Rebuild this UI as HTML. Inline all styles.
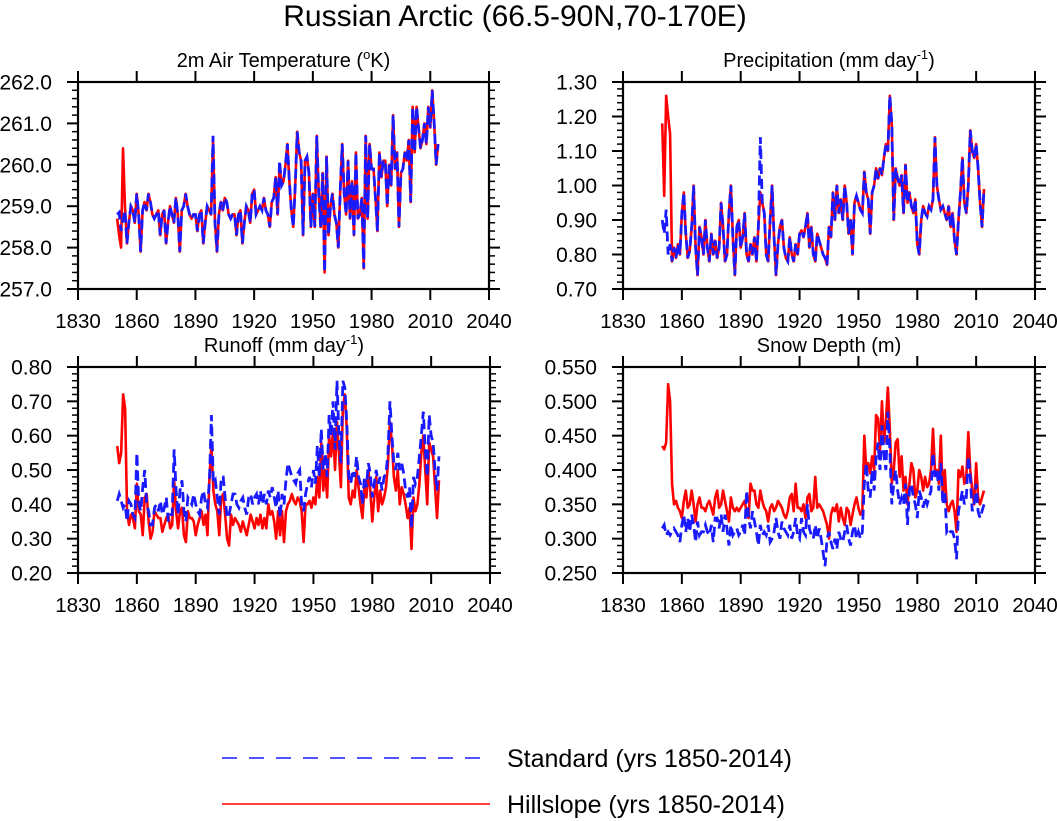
<!DOCTYPE html>
<html><head><meta charset="utf-8"><style>
html,body{margin:0;padding:0;background:#fff;}
svg{display:block;font-family:"Liberation Sans",Arial,sans-serif;}
</style></head><body>
<svg id="chart" width="1057" height="821" viewBox="0 0 1057 821">
<text x="515" y="26" text-anchor="middle" font-size="30">Russian Arctic (66.5-90N,70-170E)</text>
<g>
<line x1="222" y1="758" x2="490" y2="758" stroke="#1a1aff" stroke-width="1.4" stroke-dasharray="15,12"/>
<text x="507" y="767" font-size="25">Standard (yrs 1850-2014)</text>
<line x1="222" y1="804" x2="490" y2="804" stroke="#ff0000" stroke-width="1.4"/>
<text x="507" y="813" font-size="25">Hillslope (yrs 1850-2014)</text>
</g>
</svg>
<script>
const startYear = 1850;
const xTicks = [1830,1860,1890,1920,1950,1980,2010,2040];
const tempStd = [258.8,258.85,258.4,258.7,258.9,258.1,258.6,259.0,258.9,258.6,
259.3,258.8,257.9,258.9,259.1,258.9,259.3,259.1,258.8,258.7,
258.8,258.9,258.3,258.8,258.9,258.1,258.6,259.0,258.8,258.6,
259.2,258.8,257.9,258.9,259.0,259.3,259.0,258.8,258.7,258.8,
258.8,258.4,258.8,258.9,258.1,258.6,259.0,258.9,258.8,260.7,
258.6,257.9,258.8,259.1,258.9,259.2,259.1,258.8,258.7,258.8,
258.8,258.3,258.8,258.9,258.1,258.6,259.0,258.9,258.6,259.3,
259.4,258.8,258.9,259.0,258.9,259.2,258.9,258.8,258.5,259.1,
259.2,259.7,258.8,260.1,259.5,259.6,260.0,260.5,259.6,258.9,
258.5,259.5,260.8,260.3,260.1,258.3,260.1,260.2,259.8,258.5,
259.3,258.5,260.7,259.3,258.5,259.8,257.4,260.2,258.3,259.0,
259.3,258.8,258.6,258.0,259.4,260.5,259.3,258.8,260.1,258.7,
259.6,258.3,260.3,258.7,258.8,259.2,257.5,260.7,258.7,260.5,
259.9,259.9,259.2,258.4,260.3,259.7,260.1,260.1,259.0,260.0,
259.5,261.2,259.9,260.3,258.5,259.8,259.9,260.3,260.1,260.6,
259.1,261.4,260.3,261.4,260.9,260.4,260.6,261.0,260.5,261.4,
260.9,261.8,261.0,260.0,260.5];
const tempHill = [258.7,258.3,258.0,260.4,259.0,258.1,258.6,259.0,258.9,258.6,
259.3,258.8,257.9,258.9,259.1,258.9,259.3,259.1,258.8,258.7,
258.8,258.9,258.3,258.8,258.9,258.1,258.6,259.0,258.8,258.6,
259.2,258.8,257.9,258.9,259.0,259.3,259.0,258.8,258.7,258.8,
258.8,258.4,258.8,258.9,258.1,258.6,259.0,258.9,258.8,260.6,
258.6,257.9,258.8,259.1,258.9,259.2,259.1,258.8,258.7,258.8,
258.8,258.3,258.8,258.9,258.1,258.6,259.0,258.9,258.6,259.3,
259.4,258.8,258.9,259.0,258.9,259.2,258.9,258.8,258.5,259.1,
259.2,259.7,258.8,260.0,259.5,259.6,260.0,260.5,259.6,258.9,
258.5,259.5,260.8,260.3,260.1,258.3,260.1,260.2,259.8,258.5,
259.3,258.5,260.7,259.3,258.5,259.8,257.4,260.2,258.3,259.0,
259.3,258.8,258.6,258.0,259.4,260.5,259.3,258.8,260.1,258.7,
259.6,258.3,260.3,258.7,258.8,259.2,257.5,260.7,258.7,260.5,
259.9,259.9,259.2,258.4,260.3,259.7,260.1,260.1,259.0,260.0,
259.5,261.2,259.9,260.3,258.5,259.8,259.9,260.3,260.1,260.6,
259.1,261.4,260.3,261.4,260.9,260.4,260.6,261.0,260.5,261.4,
260.9,261.8,261.0,260.0,260.5];
const precStd = [0.90,0.86,0.93,0.80,0.83,0.78,0.82,0.79,0.83,0.80,
0.92,0.98,0.86,0.79,0.81,0.88,1.00,0.82,0.74,0.88,
0.85,0.80,0.90,0.82,0.78,0.86,0.80,0.84,0.79,0.82,
0.95,0.88,0.78,0.80,0.92,1.00,0.85,0.74,0.88,0.90,
0.82,0.85,0.92,0.80,0.78,0.83,0.80,0.85,0.78,0.88,
1.14,0.95,0.92,0.80,0.78,0.90,1.00,0.85,0.74,0.83,
0.88,0.90,0.82,0.79,0.78,0.85,0.80,0.78,0.83,0.80,
0.86,0.87,0.85,0.88,0.92,0.82,0.88,0.80,0.78,0.86,
0.84,0.82,0.80,0.79,0.77,0.88,0.85,0.98,0.90,1.00,
0.92,0.96,0.90,1.00,0.95,0.86,0.90,0.80,0.95,0.97,
0.95,0.93,0.92,1.04,0.98,0.96,0.86,0.98,1.00,1.05,
1.02,1.05,1.03,1.08,1.12,1.10,1.26,1.18,0.90,1.05,
1.02,1.00,1.03,0.92,1.06,0.95,0.98,0.94,0.92,0.96,
0.83,0.80,0.90,0.94,0.92,0.91,0.94,0.93,0.96,1.14,
1.00,0.96,0.93,0.94,0.92,0.90,0.94,0.88,0.92,0.84,
0.80,0.90,0.98,1.08,0.95,0.92,1.00,1.16,1.10,1.08,
1.12,1.05,0.95,0.88,0.99];
const precHill = [1.18,0.97,1.26,1.20,1.15,0.78,0.82,0.79,0.83,0.80,
0.92,0.98,0.86,0.79,0.81,0.88,1.00,0.82,0.74,0.88,
0.85,0.80,0.90,0.82,0.78,0.86,0.80,0.84,0.79,0.82,
0.95,0.88,0.78,0.80,0.92,1.00,0.85,0.74,0.88,0.90,
0.82,0.85,0.92,0.80,0.78,0.83,0.80,0.85,0.78,0.88,
0.98,0.95,0.92,0.80,0.78,0.90,1.00,0.85,0.74,0.83,
0.88,0.90,0.82,0.79,0.78,0.85,0.80,0.78,0.83,0.80,
0.86,0.87,0.85,0.88,0.92,0.82,0.88,0.80,0.78,0.86,
0.84,0.82,0.80,0.79,0.77,0.88,0.85,0.98,0.90,1.00,
0.92,0.96,0.90,1.00,0.95,0.86,0.90,0.80,0.95,0.97,
0.95,0.93,0.92,1.04,0.98,0.96,0.86,0.98,1.00,1.05,
1.02,1.05,1.03,1.08,1.12,1.10,1.26,1.18,0.90,1.05,
1.02,1.00,1.03,0.92,1.06,0.95,0.98,0.94,0.92,0.96,
0.83,0.80,0.90,0.94,0.92,0.91,0.94,0.93,0.96,1.14,
1.00,0.96,0.93,0.94,0.92,0.90,0.94,0.88,0.92,0.84,
0.80,0.90,0.98,1.08,0.95,0.92,1.00,1.16,1.10,1.08,
1.12,1.05,0.95,0.88,0.99];
const runStd = [0.41,0.43,0.41,0.39,0.40,0.35,0.41,0.40,0.37,0.36,
0.55,0.40,0.38,0.45,0.50,0.40,0.38,0.34,0.34,0.39,
0.40,0.38,0.41,0.37,0.39,0.42,0.35,0.37,0.37,0.56,
0.44,0.37,0.44,0.47,0.38,0.35,0.42,0.41,0.40,0.43,
0.40,0.38,0.37,0.42,0.44,0.40,0.39,0.47,0.66,0.46,
0.47,0.42,0.37,0.48,0.48,0.42,0.36,0.37,0.40,0.43,
0.43,0.40,0.39,0.41,0.42,0.39,0.37,0.42,0.43,0.40,
0.42,0.43,0.40,0.44,0.40,0.43,0.40,0.44,0.42,0.45,
0.42,0.39,0.44,0.36,0.43,0.40,0.47,0.52,0.50,0.48,
0.47,0.46,0.49,0.50,0.40,0.38,0.43,0.46,0.48,0.45,
0.50,0.46,0.57,0.48,0.62,0.50,0.55,0.48,0.66,0.60,
0.70,0.56,0.76,0.60,0.52,0.76,0.74,0.64,0.48,0.46,
0.50,0.48,0.54,0.48,0.46,0.40,0.48,0.45,0.52,0.49,
0.42,0.46,0.50,0.46,0.48,0.44,0.48,0.49,0.55,0.70,
0.60,0.52,0.50,0.55,0.50,0.52,0.49,0.44,0.42,0.45,
0.33,0.48,0.46,0.48,0.54,0.60,0.67,0.56,0.48,0.66,
0.60,0.58,0.50,0.44,0.54];
const runHill = [0.57,0.52,0.55,0.72,0.68,0.38,0.34,0.37,0.36,0.33,
0.46,0.38,0.37,0.31,0.42,0.43,0.35,0.30,0.32,0.38,
0.37,0.36,0.36,0.32,0.34,0.36,0.37,0.33,0.34,0.47,
0.38,0.33,0.38,0.39,0.31,0.29,0.38,0.36,0.36,0.35,
0.31,0.34,0.36,0.38,0.34,0.37,0.31,0.48,0.57,0.44,
0.40,0.38,0.31,0.42,0.43,0.37,0.30,0.28,0.37,0.34,
0.36,0.35,0.34,0.32,0.35,0.33,0.31,0.34,0.37,0.35,
0.33,0.36,0.34,0.37,0.33,0.36,0.33,0.40,0.37,0.38,
0.35,0.30,0.38,0.31,0.38,0.29,0.38,0.40,0.41,0.43,
0.41,0.40,0.42,0.41,0.38,0.29,0.40,0.40,0.41,0.39,
0.42,0.40,0.48,0.42,0.58,0.44,0.50,0.42,0.60,0.54,
0.62,0.50,0.64,0.55,0.45,0.68,0.72,0.62,0.42,0.40,
0.44,0.42,0.50,0.45,0.40,0.36,0.45,0.42,0.50,0.44,
0.35,0.42,0.48,0.38,0.44,0.40,0.42,0.45,0.52,0.64,
0.58,0.48,0.44,0.50,0.40,0.45,0.43,0.40,0.36,0.39,
0.27,0.42,0.38,0.40,0.46,0.55,0.60,0.50,0.40,0.58,
0.56,0.54,0.45,0.36,0.47];
const snowStd = [0.315,0.32,0.305,0.31,0.305,0.31,0.315,0.31,0.305,0.295,
0.32,0.335,0.31,0.33,0.31,0.335,0.32,0.295,0.325,0.305,
0.31,0.31,0.32,0.31,0.305,0.32,0.295,0.33,0.33,0.315,
0.335,0.31,0.335,0.315,0.29,0.32,0.305,0.31,0.315,0.305,
0.31,0.32,0.305,0.37,0.33,0.315,0.34,0.325,0.31,0.29,
0.32,0.305,0.31,0.305,0.32,0.295,0.30,0.31,0.33,0.31,
0.30,0.325,0.315,0.31,0.305,0.32,0.30,0.31,0.33,0.305,
0.30,0.33,0.31,0.305,0.35,0.315,0.305,0.30,0.32,0.30,
0.315,0.30,0.28,0.26,0.30,0.31,0.295,0.285,0.30,0.285,
0.31,0.30,0.295,0.31,0.32,0.30,0.29,0.31,0.32,0.30,
0.31,0.30,0.31,0.38,0.41,0.37,0.36,0.40,0.37,0.42,
0.44,0.40,0.465,0.42,0.40,0.485,0.43,0.35,0.38,0.40,
0.37,0.35,0.36,0.35,0.38,0.32,0.37,0.38,0.36,0.35,
0.33,0.37,0.36,0.345,0.36,0.35,0.36,0.37,0.425,0.39,
0.40,0.37,0.41,0.35,0.37,0.31,0.315,0.31,0.31,0.30,
0.27,0.34,0.355,0.37,0.35,0.36,0.42,0.39,0.34,0.35,
0.38,0.34,0.33,0.34,0.35];
const snowHill = [0.435,0.43,0.44,0.525,0.50,0.38,0.35,0.355,0.345,0.34,
0.33,0.355,0.37,0.345,0.35,0.37,0.35,0.325,0.35,0.36,
0.345,0.345,0.34,0.35,0.355,0.345,0.335,0.36,0.37,0.345,
0.35,0.37,0.355,0.34,0.325,0.36,0.345,0.34,0.345,0.34,
0.345,0.35,0.355,0.34,0.33,0.38,0.37,0.37,0.35,0.345,
0.37,0.355,0.345,0.34,0.325,0.345,0.35,0.34,0.345,0.355,
0.35,0.345,0.335,0.33,0.34,0.36,0.365,0.34,0.38,0.345,
0.345,0.34,0.35,0.33,0.36,0.365,0.34,0.345,0.39,0.345,
0.35,0.345,0.34,0.33,0.32,0.30,0.335,0.345,0.34,0.35,
0.325,0.345,0.33,0.32,0.345,0.34,0.32,0.335,0.35,0.36,
0.345,0.335,0.34,0.45,0.40,0.41,0.395,0.42,0.40,0.48,
0.475,0.43,0.50,0.44,0.47,0.52,0.46,0.38,0.40,0.44,
0.445,0.39,0.42,0.37,0.39,0.35,0.38,0.41,0.40,0.36,
0.37,0.40,0.39,0.37,0.39,0.375,0.38,0.40,0.46,0.40,
0.40,0.38,0.45,0.36,0.40,0.35,0.34,0.35,0.355,0.34,
0.31,0.40,0.39,0.405,0.38,0.39,0.455,0.40,0.37,0.35,
0.41,0.36,0.35,0.36,0.37];

const NS = "http://www.w3.org/2000/svg";
const svg = document.getElementById('chart');
function mk(tag, attrs, parent){
  const e = document.createElementNS(NS, tag);
  for (const k in attrs) e.setAttribute(k, attrs[k]);
  (parent || svg).appendChild(e);
  return e;
}
const panels = [
 {key:'temperature', title:'2m Air Temperature (', sup:'o', tail:'K)', x0:78, x1:489, y0:82, y1:289, ymin:257, ymax:262, major:1, minor:0.2, dec:1, std:tempStd, hill:tempHill},
 {key:'precipitation', title:'Precipitation (mm day', sup:'-1', tail:')', x0:623, x1:1035, y0:82, y1:289, ymin:0.7, ymax:1.3, major:0.1, minor:0.02, dec:2, std:precStd, hill:precHill},
 {key:'runoff', title:'Runoff (mm day', sup:'-1', tail:')', x0:78, x1:490, y0:367, y1:573, ymin:0.2, ymax:0.8, major:0.1, minor:0.02, dec:2, std:runStd, hill:runHill},
 {key:'snow-depth', title:'Snow Depth (m)', sup:'', tail:'', x0:623, x1:1035, y0:367, y1:573, ymin:0.25, ymax:0.55, major:0.05, minor:0.01, dec:3, std:snowStd, hill:snowHill}
];
panels.forEach(p=>{
  const g = mk('g', {});
  
  
  const xs = v => p.x0 + (v-1830)/(2040-1830)*(p.x1-p.x0);
  const ys = v => p.y1 - (v-p.ymin)/(p.ymax-p.ymin)*(p.y1-p.y0);
  const t = mk('text', {x:(p.x0+p.x1)/2, y:p.y0-15, 'text-anchor':'middle', 'font-size':20}, g);
  
  
  t.appendChild(document.createTextNode(p.title));
  if (p.sup){
    const s = mk('tspan', {'font-size':13, dy:-8}, t); s.textContent = p.sup;
    const r = mk('tspan', {'font-size':20, dy:8}, t); r.textContent = p.tail;
  }
  const pts = arr => arr.map((v,i)=>xs(startYear+i).toFixed(2)+','+ys(v).toFixed(2)).join(' ');
  const clip = mk('clipPath', {id:'clip-'+p.key}, g);
  mk('rect', {x:p.x0, y:p.y0, width:p.x1-p.x0, height:p.y1-p.y0}, clip);
  const hl = mk('polyline', {points:pts(p.hill), fill:'none', stroke:'#ff0000', 'stroke-width':2.6, 'stroke-linejoin':'round', 'clip-path':'url(#clip-'+p.key+')'}, g);
  
  
  const sl = mk('polyline', {points:pts(p.std), fill:'none', stroke:'#1a1aff', 'stroke-width':2.8, 'stroke-dasharray':'10,5', 'clip-path':'url(#clip-'+p.key+')'}, g);
  
  
  const fr = mk('rect', {x:p.x0, y:p.y0, width:p.x1-p.x0, height:p.y1-p.y0, fill:'none', stroke:'#000', 'stroke-width':2.2}, g);
  
  
  const nMin = Math.round((p.ymax-p.ymin)/p.minor);
  const perMaj = Math.round(p.major/p.minor);
  for (let i=0;i<=nMin;i++){
    const v = p.ymin + i*p.minor, y = ys(v), isMaj = i%perMaj===0;
    const L = isMaj?11:6;
    mk('line', {x1:p.x0-L, y1:y, x2:p.x0, y2:y, stroke:'#000', 'stroke-width':isMaj?2:1.5}, g);
    mk('line', {x1:p.x1, y1:y, x2:p.x1+L, y2:y, stroke:'#000', 'stroke-width':isMaj?2:1.5}, g);
    if (isMaj){
      const lb = mk('text', {x:p.x0-26, y:y+7.5, 'text-anchor':'end', 'font-size':21}, g);
      
      
      lb.textContent = v.toFixed(p.dec);
    }
  }
  xTicks.forEach(yr=>{
    const x = xs(yr);
    mk('line', {x1:x, y1:p.y1, x2:x, y2:p.y1+11, stroke:'#000', 'stroke-width':2}, g);
    mk('line', {x1:x, y1:p.y0-11, x2:x, y2:p.y0, stroke:'#000', 'stroke-width':2}, g);
    const lb = mk('text', {x:x, y:p.y1+39, 'text-anchor':'middle', 'font-size':20.5}, g);
    
    
    lb.textContent = yr;
  });
});
</script>
</body></html>
